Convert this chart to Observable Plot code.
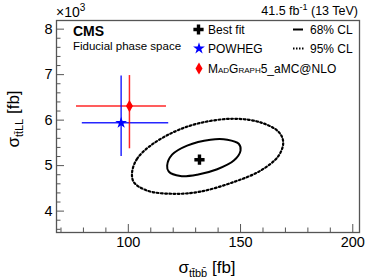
<!DOCTYPE html>
<html><head><meta charset="utf-8">
<script src="https://cdn.jsdelivr.net/npm/d3@7"></script>
<script src="https://cdn.jsdelivr.net/npm/@observablehq/plot@0.6"></script>
<style>
body{margin:0;background:#fff}
svg text{font-family:"Liberation Sans",Arial,Helvetica,sans-serif}
</style>
</head><body><div id="chart"></div>
<script>
// ---- data ----
const xDomain = [68, 203];
const yDomain = [3.53, 8.19];
const xMajor = [100, 150, 200];
const xMinor = [70, 80, 90, 110, 120, 130, 140, 160, 170, 180, 190];
const yMajor = [4, 5, 6, 7, 8];
const yMinor = [3.6, 3.8, 4.2, 4.4, 4.6, 4.8, 5.2, 5.4, 5.6, 5.8, 6.2, 6.4, 6.6, 6.8, 7.2, 7.4, 7.6, 7.8];

const bestFitX = [131.7];
const bestFitY = [5.13];

const cl68X = [117.3, 119.5, 126.2, 136.6, 144.1, 149.2, 150.0, 147.0, 139.6, 130.7, 123.2, 118.0];
const cl68Y = [5.00, 5.24, 5.44, 5.57, 5.57, 5.48, 5.33, 5.11, 4.92, 4.80, 4.77, 4.87];
const cl95X = [101.7, 103.9, 109.9, 120.3, 132.2, 147.0, 158.9, 167.0, 169.0, 167.0, 158.9, 147.0, 132.2, 120.3, 108.4, 102.4];
const cl95Y = [4.86, 5.15, 5.44, 5.74, 5.94, 6.03, 5.95, 5.74, 5.52, 5.22, 4.89, 4.64, 4.43, 4.38, 4.45, 4.64];

const predNames = ["MadGraph5_aMC@NLO", "POWHEG"];
const predX = [100.5, 96.8];
const predY = [6.31, 5.94];
const predXLo = [76.9, 79.5];
const predXHi = [117.0, 118.0];
const predYLo = [5.37, 5.20];
const predYHi = [6.98, 6.97];
const predColor = ["#ff0000", "#0000ff"];
const predSymbol = ["diamond", "star"];

// ---- tables ----
const preds = predNames.map((n, i) => ({name: n, x: predX[i], y: predY[i], xlo: predXLo[i], xhi: predXHi[i], ylo: predYLo[i], yhi: predYHi[i], color: predColor[i], symbol: predSymbol[i]}));
const best = bestFitX.map((x, i) => ({x, y: bestFitY[i]}));
const c68 = cl68X.map((x, i) => ({x, y: cl68Y[i]}));
const c95 = cl95X.map((x, i) => ({x, y: cl95Y[i]}));

const axisGray = "#555";
const fmt = d3.format("d");
const chart = Plot.plot({
  width: 374, height: 280,
  marginLeft: 56, marginRight: 15, marginTop: 20, marginBottom: 48,
  x: {domain: xDomain, axis: null},
  y: {domain: yDomain, axis: null},
  style: {fontFamily: "Liberation Sans, Arial, sans-serif", fontSize: "14px", color: "black", background: "white", overflow: "visible"},
  marks: [
    Plot.frame({stroke: axisGray, strokeWidth: 1.3}),
    Plot.axisX({ticks: xMajor, tickSize: -8, tickPadding: 12, tickFormat: fmt, label: null, stroke: axisGray, fill: "black", fontSize: 14.5}),
    Plot.axisX({ticks: xMinor, tickSize: -4.5, tickFormat: () => "", label: null, stroke: axisGray}),
    Plot.axisY({ticks: yMajor, tickSize: -8, tickPadding: 12, tickFormat: fmt, label: null, stroke: axisGray, fill: "black", fontSize: 14.5}),
    Plot.axisY({ticks: yMinor, tickSize: -4.5, tickFormat: () => "", label: null, stroke: axisGray}),
    Plot.line(c95, {x: "x", y: "y", curve: "catmull-rom-closed", stroke: "black", strokeWidth: 2.2, strokeDasharray: "1.8,2.4"}),
    Plot.line(c68, {x: "x", y: "y", curve: "catmull-rom-closed", stroke: "black", strokeWidth: 2}),
    Plot.ruleY(preds, {y: "y", x1: "xlo", x2: "xhi", stroke: "color", strokeWidth: 1.5, strokeOpacity: 0.85}),
    Plot.ruleX(preds, {x: "x", y1: "ylo", y2: "yhi", stroke: "color", strokeWidth: 1.5, strokeOpacity: 0.85}),
    Plot.dot(preds, {x: "x", y: "y", symbol: "symbol", fill: "color", stroke: "none", r: 3.7}),
    Plot.dot(best, {x: "x", y: "y", symbol: "cross", fill: "black", stroke: "none", r: 4.3})
  ]
});
document.getElementById("chart").append(chart);

// ---- annotations / legend ----
const svg = d3.select(chart);
const g = svg.append("g").attr("text-anchor", "start");
const F = "Liberation Sans, Arial, sans-serif";

function txt(x, y, size, opts = {}) {
  const t = g.append("text").attr("x", x).attr("y", y).attr("font-size", size).attr("font-family", F).attr("fill", "black")
    .attr("text-anchor", opts.anchor || "start");
  if (opts.weight) t.attr("font-weight", opts.weight);
  return t;
}

// x10^3
const t1 = txt(56, 17, 14);
t1.append("tspan").text("×10");
t1.append("tspan").attr("font-size", 10).attr("dy", -6).text("3");

// lumi
const t2 = txt(358, 15, 12.5, {anchor: "end"});
t2.append("tspan").text("41.5 fb");
t2.append("tspan").attr("font-size", 9).attr("dy", -5).text("-1");
t2.append("tspan").attr("dy", 5).text(" (13 TeV)");

txt(73, 36, 14, {weight: "bold"}).text("CMS");
txt(73, 50, 11.5).text("Fiducial phase space");

// legend entries
const symPath = (type, size) => d3.symbol(type, size)();
g.append("path").attr("d", symPath(d3.symbolCross, 58)).attr("transform", "translate(198.5,29.5)").attr("fill", "black");
g.append("path").attr("d", symPath(d3.symbolStar, 43)).attr("transform", "translate(199,48.5)").attr("fill", "#0000ff");
g.append("path").attr("d", symPath(d3.symbolDiamond, 43)).attr("transform", "translate(199,68.5)").attr("fill", "#ff0000");
txt(208, 33.5, 12).text("Best fit");
txt(208, 53, 12).text("POWHEG");
const mg = txt(208, 73, 12);
mg.append("tspan").attr("style", "font-variant: small-caps").text("MadGraph");
mg.append("tspan").text("5_aMC@NLO");

g.append("line").attr("x1", 293).attr("x2", 303).attr("y1", 29.5).attr("y2", 29.5).attr("stroke", "black").attr("stroke-width", 2);
g.append("line").attr("x1", 293).attr("x2", 304).attr("y1", 48.5).attr("y2", 48.5).attr("stroke", "black").attr("stroke-width", 2).attr("stroke-dasharray", "1.5,1.5");
txt(310, 33.5, 12).text("68% CL");
txt(310, 53, 12).text("95% CL");

// axis titles
const xt = txt(207, 273, 17, {anchor: "middle"});
xt.append("tspan").text("σ");
xt.append("tspan").attr("font-size", 11).attr("dy", 4).text("tt\u0304bb\u0304");
xt.append("tspan").attr("dy", -4).text(" [fb]");

const yt = g.append("text").attr("transform", "translate(19,119) rotate(-90)").attr("text-anchor", "middle").attr("font-size", 17).attr("font-family", F).attr("fill", "black");
yt.append("tspan").text("σ");
yt.append("tspan").attr("font-size", 11).attr("dy", 4).text("tt\u0304LL");
yt.append("tspan").attr("dy", -4).text(" [fb]");
</script>
</body></html>
